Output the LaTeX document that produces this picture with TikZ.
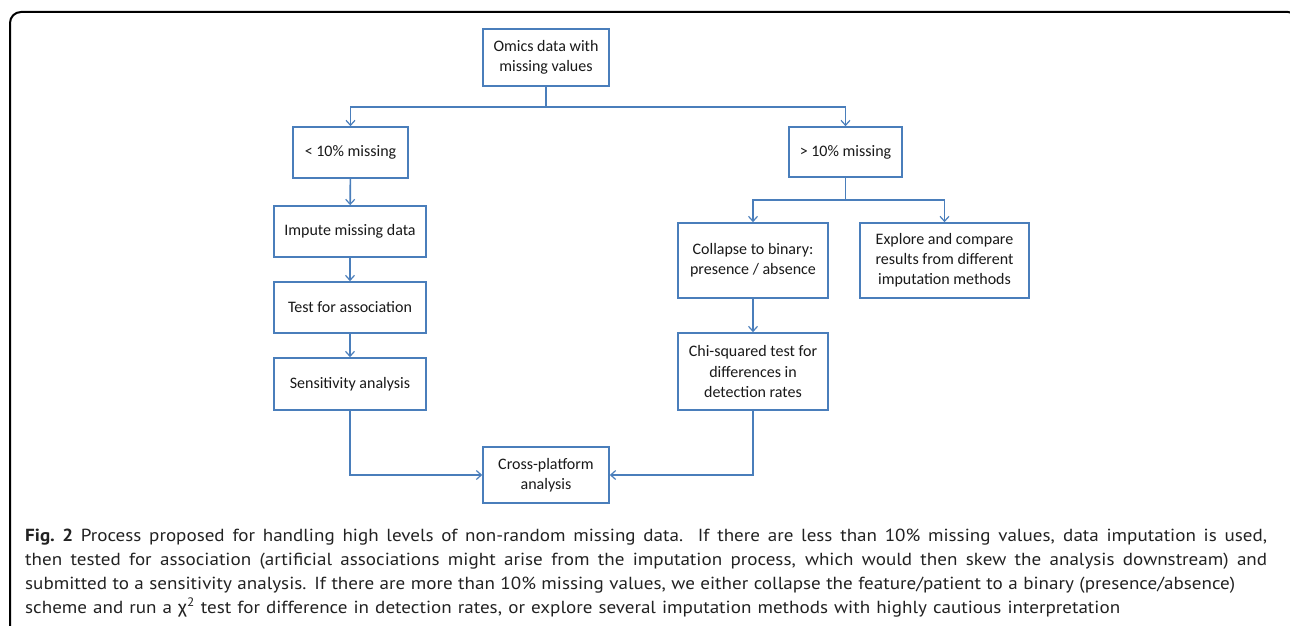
\documentclass[tikz,border=0pt]{standalone}
\usepackage{fontspec}
\setmainfont{Carlito}
\newfontfamily\capfont[FakeStretch=1.09]{PT Sans}
\newfontfamily\greekfont[FakeStretch=1.09]{Fira Sans}
\usetikzlibrary{arrows.meta}
\definecolor{boxblue}{HTML}{4A7EBB}
\definecolor{captext}{HTML}{222222}
\tikzset{
  stepbox/.style={draw=boxblue, line width=1.6pt, fill=white, inner sep=0pt, align=center,
     font=\fontsize{16}{20}\selectfont, text=black!90},
  flow/.style={draw=boxblue, line width=1.6pt, -{Straight Barb[length=5pt,width=9pt,line width=1.2pt]}},
  plainflow/.style={draw=boxblue, line width=1.6pt},
  capline/.style={anchor=base west, inner sep=0pt, text=captext, font=\capfont\fontsize{17.5}{22}\selectfont}
}
\begin{document}
\begin{tikzpicture}[x=1pt,y=-1pt]
\useasboundingbox (0,0) rectangle (1290,626);
\begin{scope}
\clip (0,0) rectangle (1290,626);
\draw[line width=2pt, rounded corners=11pt] (10,12) rectangle (1299,660);
\end{scope}

\node[stepbox, minimum width=126pt, minimum height=57pt] (omics) at (546,57.5) {Omics data with\\missing values};
\node[stepbox, minimum width=115pt, minimum height=51pt] (lt) at (350.5,152.5) {< 10\% missing};
\node[stepbox, minimum width=152pt, minimum height=51pt] (impute) at (350,231.5) {Impute missing data};
\node[stepbox, minimum width=152pt, minimum height=51pt] (test) at (350,307.5) {Test for association};
\node[stepbox, minimum width=152pt, minimum height=52pt] (sens) at (350,384) {Sensitivity analysis};
\node[stepbox, minimum width=113pt, minimum height=50pt] (gt) at (845.5,152) {> 10\% missing};
\node[stepbox, minimum width=150pt, minimum height=75pt] (collapse) at (753,260.5) {Collapse to binary:\\presence / absence};
\node[stepbox, minimum width=169pt, minimum height=75pt] (explore) at (944.5,260.5) {Explore and compare\\results from different\\imputation methods};
\node[stepbox, minimum width=150pt, minimum height=77pt] (chi) at (753,371.5) {Chi-squared test for\\differences in\\detection rates};
\node[stepbox, minimum width=126pt, minimum height=56pt] (cross) at (546,475) {Cross-platform\\analysis};

\coordinate (j1) at (546,107);
\coordinate (j2) at (845.5,200);
\draw[plainflow] (omics.south) -- (j1);
\draw[flow] (j1) -| (lt.north);
\draw[flow] (j1) -| (gt.north);
\draw[flow] (lt) -- (impute);
\draw[flow] (impute) -- (test);
\draw[flow] (test) -- (sens);
\draw[plainflow] (gt.south) -- (j2);
\draw[flow] (j2) -| (collapse.north);
\draw[flow] (j2) -| (explore.north);
\draw[flow] (collapse) -- (chi);
\draw[flow] (sens.south) |- (cross.west);
\draw[flow] (chi.south) |- (cross.east);

\node[capline] (c1) at (25,541) {\makebox[1242pt][s]{\textbf{Fig.\ 2} Process proposed for handling high levels of non-random missing data. If there are less than 10\% missing values, data imputation is used,}};
\node[capline] (c2) at (25,565) {\makebox[1242pt][s]{then tested for association (artificial associations might arise from the imputation process, which would then skew the analysis downstream) and}};
\node[capline] (c3) at (25,589) {\makebox[1210pt][s]{submitted to a sensitivity analysis. If there are more than 10\% missing values, we either collapse the feature/patient to a binary (presence/absence)}};
\node[capline] (c4) at (25,613) {\makebox[1095pt][s]{scheme and run a {\greekfont χ}\textsuperscript{2} test for difference in detection rates, or explore several imputation methods with highly cautious interpretation}};
\end{tikzpicture}
\end{document}
